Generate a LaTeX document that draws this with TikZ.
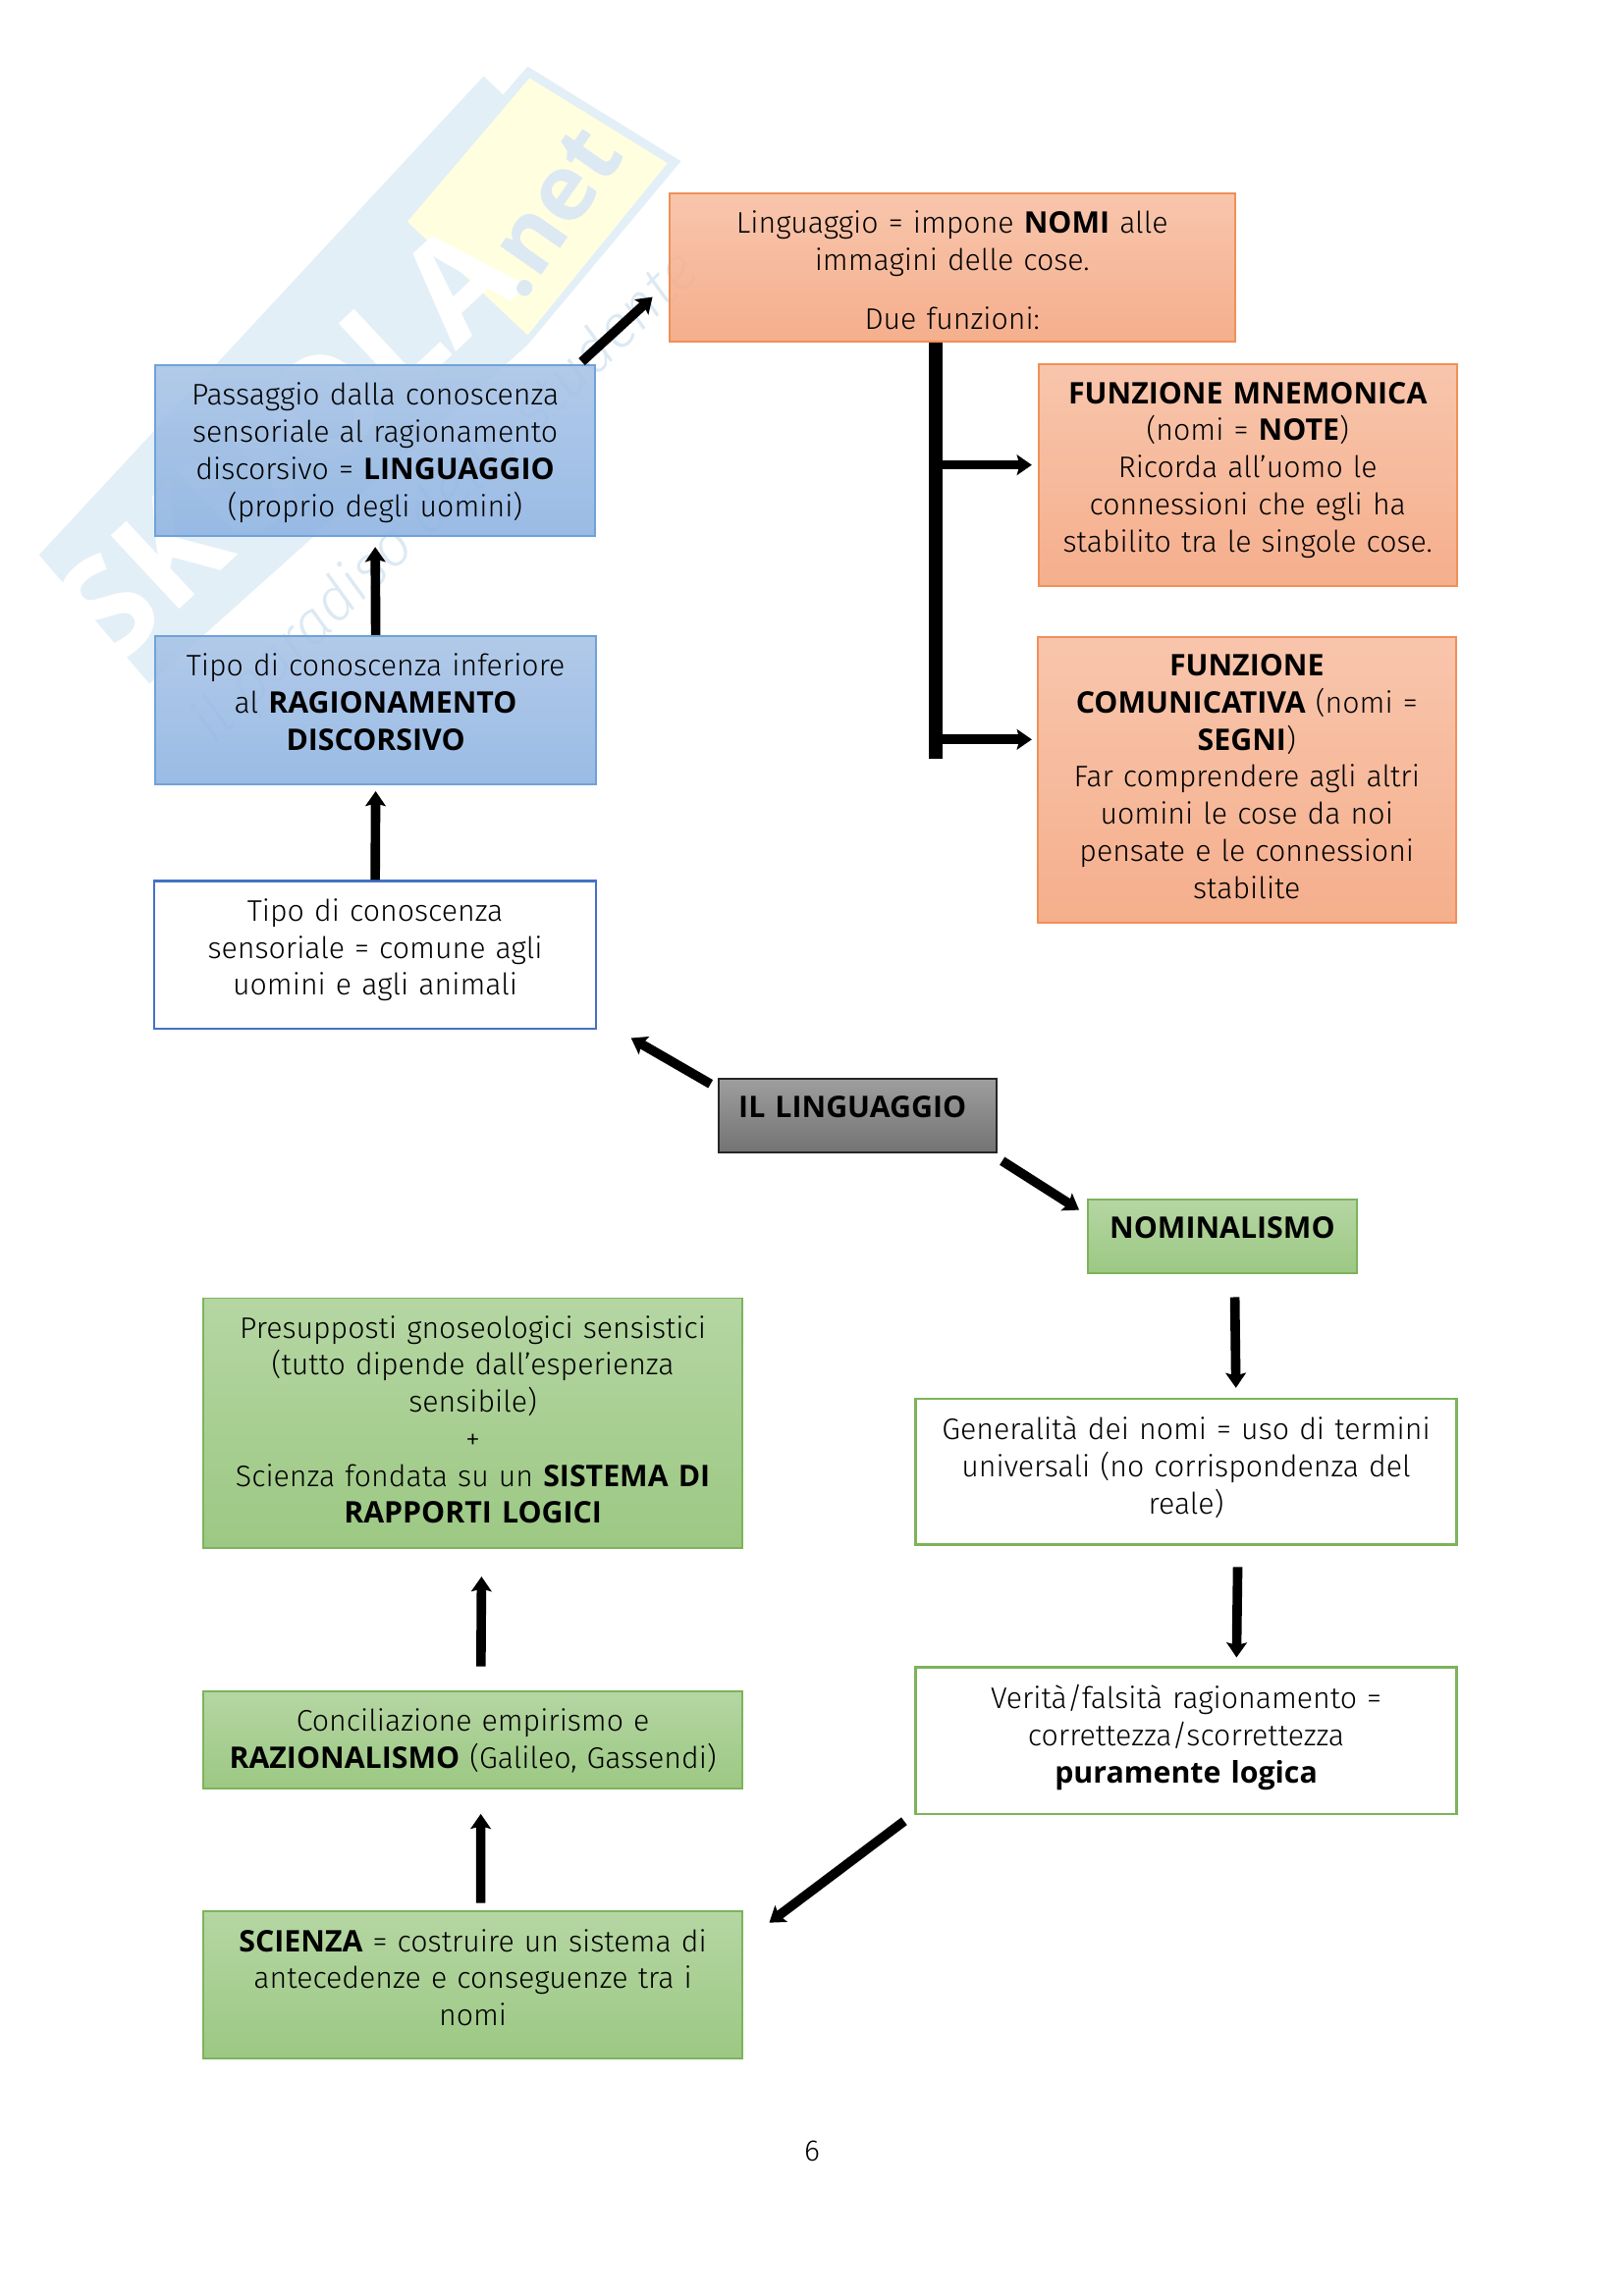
\documentclass[tikz,border=0pt]{standalone}
\usepackage{fontspec}
\setmainfont{Fira Sans Light}[BoldFont={Open Sans Bold}]
\usetikzlibrary{arrows.meta}

\newlength\pxu
\setlength\pxu{0.0127cm}
\newcommand{\boxtext}[2]{\parbox[c][#1\pxu][t]{\linewidth}{\centering\vspace*{6.5pt}#2}}

\definecolor{wmblue}{HTML}{E3EFF7}
\definecolor{wmtext}{HTML}{DCE9F3}
\definecolor{wmyellow}{HTML}{FFFFE0}

\tikzset{
  basebox/.style={rectangle,inner sep=0pt,line width=0.7pt,font=\fontsize{11}{13.7}\selectfont},
  orangebox/.style={basebox,draw=orangebord,top color=orangetop,bottom color=orangebot,fill opacity=0.9,text opacity=1},
  bluebox/.style={basebox,draw=bluebord,top color=bluetop,bottom color=bluebot,fill opacity=0.9,text opacity=1},
  greenbox/.style={basebox,draw=greenbord,top color=greentop,bottom color=greenbot},
  graybox/.style={basebox,draw=black!85,top color=black!38,bottom color=black!55},
  whitegreen/.style={basebox,draw=greenbord,line width=0.9pt,fill=white},
  whiteblue/.style={basebox,draw=whitebord,line width=0.9pt,fill=white},
  arrowline/.style={line width=3.5pt,-{Stealth[length=5.5pt,width=7.5pt,inset=1pt]}}
}
\definecolor{orangetop}{HTML}{F7BFA3}
\definecolor{orangebot}{HTML}{F4A680}
\definecolor{orangebord}{HTML}{F09058}
\definecolor{bluetop}{HTML}{A9C4E6}
\definecolor{bluebot}{HTML}{8FB4E2}
\definecolor{bluebord}{HTML}{6FA2D9}
\definecolor{whitebord}{HTML}{4472C4}
\definecolor{greentop}{HTML}{B5D6A3}
\definecolor{greenbot}{HTML}{9CC883}
\definecolor{greenbord}{HTML}{7DB35B}

\begin{document}
\begin{tikzpicture}[x=0.0127cm,y=-0.0127cm]
  \useasboundingbox (0,0) rectangle (1662,2350.5);
  % Watermark
  \fill[wmblue] (40,568) -- (495,78) -- (515,97) -- (540,68) -- (697,165) -- (540,353) -- (153,700) -- cycle;
  \fill[wmyellow] (542,80) -- (683,167) -- (540,343) -- (417,227) -- cycle;
  \node[rotate=43,text=white,font=\fontsize{52}{52}\bfseries\selectfont] (wmname) at (293,452) {SKUOLA};
  \node[rotate=55,text=wmtext,font=\fontsize{34}{34}\bfseries\selectfont] (wmnet) at (563,217) {.net};
  \node[rotate=44,text=wmtext,font=\fontsize{22}{22}\itshape\selectfont] (wmmotto) at (457,510) {il paradiso dello studente};
  % Upper left
  \node[bluebox,text width=450\pxu] (passaggio) at (384,461.5) {\boxtext{175}{Passaggio dalla conoscenza\\ sensoriale al ragionamento\\ discorsivo = \textbf{LINGUAGGIO}\\ (proprio degli uomini)}};
  \node[bluebox,text width=451\pxu] (inferiore) at (384.5,727) {\boxtext{152}{Tipo di conoscenza inferiore\\ al \textbf{RAGIONAMENTO}\\ \textbf{DISCORSIVO}}};
  \node[whiteblue,text width=452\pxu] (sensoriale) at (384,977.5) {\boxtext{151}{Tipo di conoscenza\\ sensoriale = comune agli\\ uomini e agli animali}};
  % Upper right
  \node[orangebox,text width=579\pxu] (linguaggio) at (974.5,274) {\boxtext{152}{Linguaggio = impone \textbf{NOMI} alle\\ immagini delle cose.\\[8pt] Due funzioni:}};
  \node[orangebox,text width=428\pxu] (mnemonica) at (1277,486.5) {\boxtext{227}{\textbf{FUNZIONE MNEMONICA}\\ (nomi = \textbf{NOTE})\\ Ricorda all’uomo le\\ connessioni che egli ha\\ stabilito tra le singole cose.}};
  \node[orangebox,text width=428\pxu] (comunicativa) at (1276,798.5) {\boxtext{293}{\textbf{FUNZIONE}\\ \textbf{COMUNICATIVA} (nomi =\\ \textbf{SEGNI})\\ Far comprendere agli altri\\ uomini le cose da noi\\ pensate e le connessioni\\ stabilite}};
  % Centre
  \node[graybox,text width=284\pxu] (titolo) at (878,1142) {\boxtext{76}{\textbf{IL LINGUAGGIO}\hspace*{4pt}}};
  \node[greenbox,text width=276\pxu] (nominalismo) at (1251,1265.5) {\boxtext{75}{\textbf{NOMINALISMO}}};
  % Lower right
  \node[whitegreen,text width=554\pxu] (generalita) at (1214,1506.5) {\boxtext{149}{Generalità dei nomi = uso di termini\\ universali (no corrispondenza del\\ reale)}};
  \node[whitegreen,text width=554\pxu] (verita) at (1214,1782) {\boxtext{150}{Verità/falsità ragionamento =\\ correttezza/scorrettezza\\ \textbf{puramente logica}}};
  % Lower left
  \node[greenbox,text width=552\pxu] (presupposti) at (484,1457) {\boxtext{256}{Presupposti gnoseologici sensistici\\ (tutto dipende dall’esperienza\\ sensibile)\\ +\\ Scienza fondata su un \textbf{SISTEMA DI}\\ \textbf{RAPPORTI LOGICI}}};
  \node[greenbox,text width=552\pxu] (conciliazione) at (484,1781) {\boxtext{100}{Conciliazione empirismo e\\ \textbf{RAZIONALISMO} (Galileo, Gassendi)}};
  \node[greenbox,text width=552\pxu] (scienza) at (484,2032) {\boxtext{150}{\textbf{SCIENZA} = costruire un sistema di\\ antecedenze e conseguenze tra i\\ nomi}};
  \node[font=\fontsize{11}{13.7}\selectfont] (pagina) at (831,2202) {6};
  % Arrows
  \draw[arrowline,shorten <=4\pxu,shorten >=22\pxu] (passaggio.23.4) -- (linguaggio.183.5);
  \draw[arrowline,shorten >=10\pxu] (inferiore.north) -- (passaggio.south);
  \draw[arrowline,shorten >=6\pxu] (sensoriale.north) -- (inferiore.south);
  \draw[arrowline,shorten <=9\pxu,shorten >=40\pxu] (titolo.169.2) -- (sensoriale.-16.4);
  \draw[arrowline,shorten <=14\pxu,shorten >=9\pxu] (titolo.-16.2) -- (nominalismo.171.35);
  \draw[arrowline,shorten <=24\pxu,shorten >=10\pxu] (nominalismo.-72.3) -- (generalita.56.7);
  \draw[arrowline,shorten <=22\pxu,shorten >=9\pxu] (generalita.-55.9) -- (verita.56.2);
  \draw[arrowline,shorten <=13\pxu,shorten >=33\pxu] (verita.195.3) -- (scienza.9.26);
  \draw[arrowline,shorten <=8\pxu,shorten >=25\pxu] (scienza.84.3) -- (conciliazione.-81.5);
  \draw[arrowline,shorten <=24\pxu,shorten >=28\pxu] (conciliazione.81.5) -- (presupposti.-86.65);
  % Stem and branches
  \coordinate (stemend) at (958,777);
  \coordinate (brancha) at (964,476);
  \coordinate (branchb) at (964,757);
  \draw[line width=5pt] (stemend |- linguaggio.south) -- (stemend);
  \draw[arrowline,shorten >=6\pxu] (brancha) -- (brancha -| mnemonica.west);
  \draw[arrowline,shorten >=5\pxu] (branchb) -- (branchb -| comunicativa.west);
\end{tikzpicture}
\end{document}
